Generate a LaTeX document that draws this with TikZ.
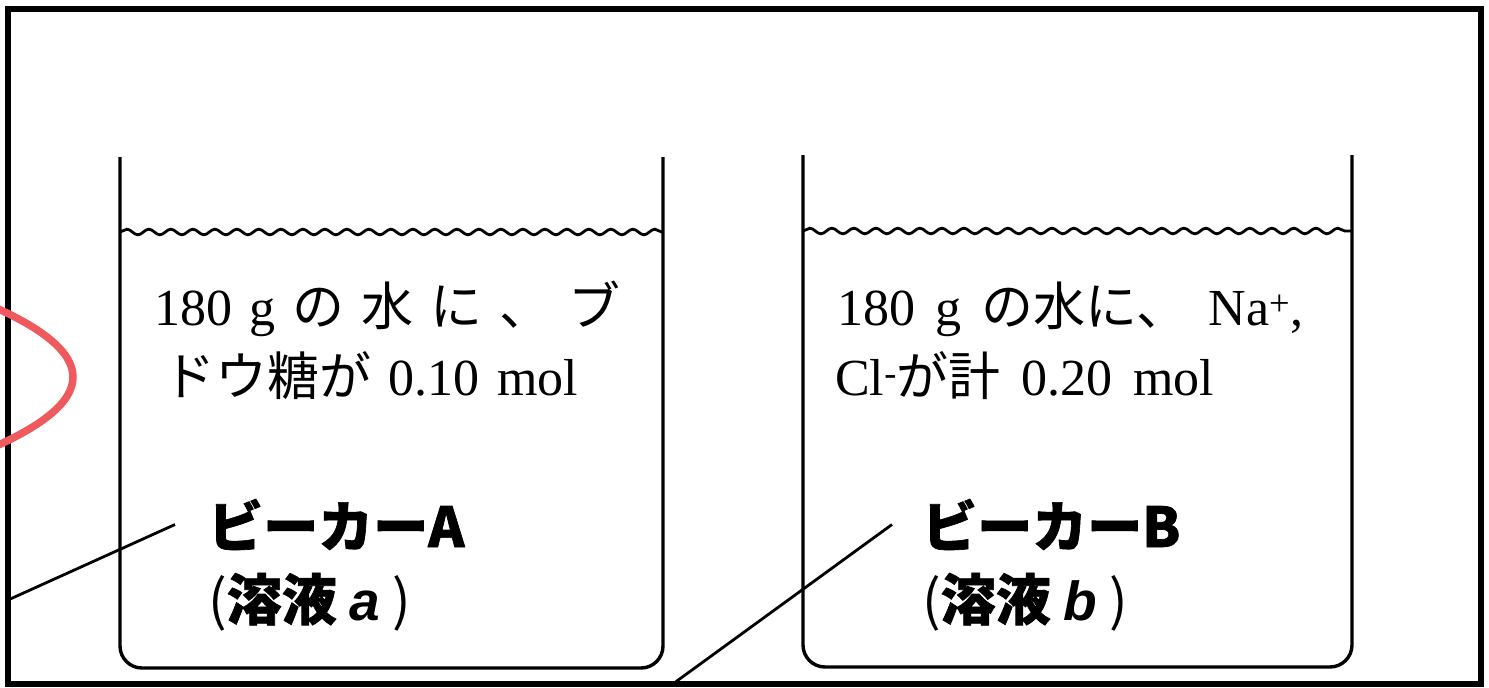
\documentclass[tikz,border=0pt]{standalone}
\usepackage{fontspec}
\setmainfont{Liberation Serif}
\newfontfamily\jpfont{Noto Sans CJK JP}[BoldFeatures={FakeBold=1.2}]
\newfontfamily\latsans{Liberation Sans}[BoldFeatures={FakeBold=1.2}]
\usetikzlibrary{decorations.pathmorphing}
\definecolor{penred}{HTML}{EE5A5E}
\newcommand{\ja}[1]{{\jpfont #1}}

\begin{document}
\begin{tikzpicture}[x=1pt,y=-1pt,
  wall/.style={line width=3.4pt},
  water/.style={line width=2.8pt,decorate,decoration={snake,segment length=22pt,amplitude=2.8pt}},
  body/.style={anchor=base west,inner sep=0pt,font=\fontsize{52}{70}\selectfont},
  tag/.style={anchor=base west,inner sep=0pt,font=\jpfont\bfseries\fontsize{55}{60}\selectfont},
  leader/.style={line width=2.8pt}]
  \useasboundingbox (0,0) rectangle (1489,688);
  \clip (0,0) rectangle (1489,688);
  \fill[white] (0,0) rectangle (1489,688);
  \draw[line width=6pt] (8,9) rectangle (1481,684);
  % beakers and water surface
  \draw[wall,rounded corners=22pt] (120,157) -- (120,668) -- (663,668) -- (663,157);
  \draw[wall,rounded corners=22pt] (803,155) -- (803,667) -- (1352,667) -- (1352,155);
  \draw[water] (120,232) -- (663,232);
  \draw[water] (803,231) -- (1352,231);
  % contents
  \node[body] (txtA1) at (154,325) {\makebox[466pt][s]{180 g \ja{の} \ja{水} \ja{に} \ja{、} \ja{ブ}}};
  \node[body] (txtA2) at (163,395) {\makebox[415pt][s]{\ja{ドウ糖が} 0.10 mol}};
  \node[body] (txtB1) at (837,325) {\makebox[466pt][s]{180 g \ja{の水に、} Na\textsuperscript{+},}};
  \node[body] (txtB2) at (835,395) {\makebox[379pt][s]{Cl\textsuperscript{-}\ja{が計} 0.20 mol}};
  % labels
  \node[tag] (labA) at (208,547) {ビーカーA};
  \node[tag] (solA) at (208,620) {{\mdseries(}溶液 {\latsans\bfseries\itshape a} {\mdseries)}};
  \node[tag] (labB) at (922,547) {ビーカーB};
  \node[tag] (solB) at (922,620) {{\mdseries(}溶液 {\latsans\bfseries\itshape b} {\mdseries)}};
  \coordinate (tipA) at (8,600);
  \coordinate (tipB) at (670,686);
  \draw[leader] ([xshift=-33pt]labA.west) -- (tipA);
  \draw[leader] ([xshift=-30pt]labB.west) -- (tipB);
  % pen mark
  \draw[penred,line width=7.5pt] (-20,301) .. controls (104,352) and (104,402) .. (-20,453);
\end{tikzpicture}
\end{document}
